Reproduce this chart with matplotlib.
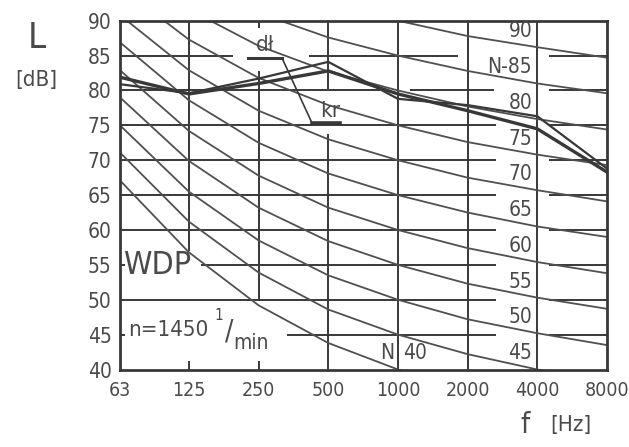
import matplotlib.pyplot as plt
import numpy as np

W, H = 629, 447

# oktawowe pasma czestotliwosci
freqs = [63, 125, 250, 500, 1000, 2000, 4000, 8000]
freq_labels = ['63', '125', '250', '500', '1000', '2000', '4000', '8000']
db_ticks = [40, 45, 50, 55, 60, 65, 70, 75, 80, 85, 90]

# krzywe N
nr_levels = [40, 45, 50, 55, 60, 65, 70, 75, 80, 85, 90]
nr40 = [67.1, 56.8, 49.2, 43.8, 40.0, 37.1, 34.9, 33.2]
nr45 = [71.1, 61.2, 53.9, 48.6, 45.0, 42.2, 40.0, 38.4]
nr50 = [75.0, 65.5, 58.5, 53.5, 50.0, 47.2, 45.2, 43.5]
nr55 = [79.0, 69.9, 63.2, 58.4, 55.0, 52.3, 50.3, 48.7]
nr60 = [82.9, 74.2, 67.8, 63.2, 60.0, 57.4, 55.4, 53.8]
nr65 = [86.9, 78.6, 72.5, 68.1, 65.0, 62.5, 60.5, 59.0]
nr70 = [90.8, 82.9, 77.1, 73.0, 70.0, 67.5, 65.7, 64.1]
nr75 = [94.8, 87.3, 81.8, 77.9, 75.0, 72.6, 70.8, 69.3]
nr80 = [98.7, 91.6, 86.4, 82.7, 80.0, 77.7, 75.9, 74.4]
nr85 = [102.7, 96.0, 91.1, 87.6, 85.0, 82.8, 81.0, 79.6]
nr90 = [106.6, 100.3, 95.7, 92.5, 90.0, 87.8, 86.2, 84.7]
nr_curves = [nr40, nr45, nr50, nr55, nr60, nr65, nr70, nr75, nr80, nr85, nr90]

# widma zmierzone (WDP, n=1450 1/min)
level_kr = [81.9, 79.5, 81.0, 82.8, 79.5, 77.1, 74.5, 68.3]
level_dl = [80.9, 79.6, 81.7, 84.1, 78.8, 77.9, 76.3, 68.8]

ink = '#383838'
txt = '#4a4a4a'
plt.rcParams['font.family'] = ['DejaVu Sans']
plt.rcParams['font.stretch'] = 'condensed'


def px(x, y):
    return x / W, 1 - y / H


fig = plt.figure(figsize=(W / 100, H / 100), dpi=100)
fig.patch.set_facecolor('white')
ax = fig.add_axes([120 / W, 1 - 369.5 / H, 487 / W, 348.8 / H])
ax.set_xscale('log', base=2)
ax.set_xlim(63, 8000)
ax.set_ylim(40, 90)
ax.set_xticks(freqs)
ax.set_xticklabels(freq_labels)
ax.set_yticks(db_ticks)
ax.tick_params(axis='y', length=0, labelsize=15, colors=txt, pad=6)
ax.tick_params(axis='x', length=0, labelsize=14, colors=txt, pad=8)
ax.minorticks_off()
for s in ax.spines.values():
    s.set_color(ink)
    s.set_linewidth(2.0)

# siatka pozioma (przerwana przy opisach)
for d in [50, 60, 65, 70, 75]:
    ax.hlines(d, 63, 2640, color=ink, lw=1.4)
ax.hlines(85, 63, 193, color=ink, lw=1.4)
ax.hlines(85, 413, 1817, color=ink, lw=1.4)
ax.hlines(80, 63, 840, color=ink, lw=1.4)
ax.hlines(80, 1133, 2600, color=ink, lw=1.4)
ax.hlines(55, 141, 2640, color=ink, lw=1.4)
ax.hlines(45, 333, 2640, color=ink, lw=1.4)
ax.hlines([55, 45], 63, 66, color=ink, lw=1.4)
ax.hlines(db_ticks[1:-1], 4478, 8000, color=ink, lw=1.4)

# siatka pionowa
ax.vlines([1000, 2000, 4000], 40, 90, color=ink, lw=1.4)
ax.vlines(125, 57, 90, color=ink, lw=1.4)
ax.vlines(250, 49.8, 82.8, color=ink, lw=1.4)
ax.vlines(250, 89, 90, color=ink, lw=1.4)
ax.vlines(500, 40, 73.8, color=ink, lw=1.4)
ax.vlines(500, 80.2, 90, color=ink, lw=1.4)
ax.vlines([125, 250], 40, 41.2, color=ink, lw=1.4)

# krzywe N
for lvl, vals in zip(nr_levels, nr_curves):
    ax.plot(freqs, vals, color='#505050', lw=1.3, clip_on=True)
    if lvl == 40:
        continue
    lab = 'N-85' if lvl == 85 else str(lvl)
    ax.text(3800, vals[6] + 2.3, lab, ha='right', va='center',
            fontsize=15, color=txt)
ax.text(960, 42.4, 'N', ha='right', va='center', fontsize=15, color=txt)
ax.text(1050, 42.4, '40', ha='left', va='center', fontsize=15, color=txt)

# widma zmierzone
ax.plot(freqs, level_dl, color=ink, lw=1.6)
ax.plot(freqs, level_kr, color=ink, lw=2.4)

# opisy linii
fig.text(*px(265, 45), 'dł', ha='center', va='center', fontsize=16, color=txt)
fig.text(*px(330, 111), 'kr', ha='center', va='center', fontsize=16, color=txt)
fig.add_artist(plt.Line2D([248 / W, 282 / W], [1 - 58 / H] * 2, color=ink, lw=2.2))
fig.add_artist(plt.Line2D([282 / W, 312 / W], [1 - 58 / H, 1 - 123 / H], color=ink, lw=1.2))
fig.add_artist(plt.Line2D([312 / W, 340 / W], [1 - 123 / H] * 2, color=ink, lw=2.6))

fig.text(*px(157, 266), 'WDP', ha='center', va='center', fontsize=23, color=txt)
fig.text(*px(168, 330), 'n=1450', ha='center', va='center', fontsize=16, color=txt)
fig.text(*px(219, 316), '1', ha='center', va='center', fontsize=11, color=txt)
fig.text(*px(229, 332), '/', ha='center', va='center', fontsize=20, color=txt)
fig.text(*px(251, 343), 'min', ha='center', va='center', fontsize=15, color=txt)

fig.text(*px(37, 38), 'L', ha='center', va='center', fontsize=26, color=txt)
fig.text(*px(36, 80), '[dB]', ha='center', va='center', fontsize=16, color=txt)
fig.text(*px(525, 425), 'f', ha='center', va='center', fontsize=21, color=txt)
fig.text(*px(571, 425), '[Hz]', ha='center', va='center', fontsize=16, color=txt)

fig.savefig('out.png', dpi=100)
